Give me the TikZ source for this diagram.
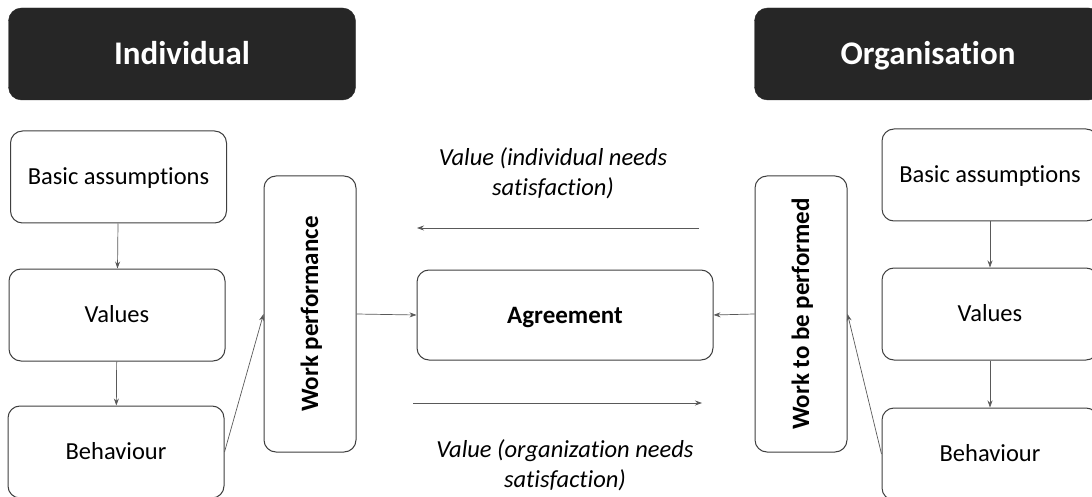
\documentclass[tikz,border=0pt]{standalone}
\usepackage{fontspec}
\setmainfont[RawFeature={-liga;-clig;-dlig;-calt}]{Carlito}
\usetikzlibrary{arrows.meta}
\definecolor{headfill}{HTML}{262626}
\definecolor{edge}{HTML}{3F3F3F}
\definecolor{link}{HTML}{595959}
\begin{document}
\begin{tikzpicture}[x=1pt,y=-1pt,
  header/.style={draw=headfill,fill=headfill,rounded corners=13pt,minimum width=347pt,
    minimum height=92pt,text=white,font=\fontsize{33}{37}\selectfont\bfseries,
    text height=21pt,text depth=0pt},
  card/.style={draw=edge,line width=1pt,rounded corners=12pt,fill=white,
    minimum width=216pt,minimum height=92pt,font=\fontsize{24.5}{28}\selectfont,
    text height=15.8pt,text depth=0pt},
  tallcard/.style={draw=edge,line width=1pt,rounded corners=12pt,fill=white,
    minimum width=92pt,minimum height=276pt},
  vlabel/.style={rotate=90,font=\fontsize{25}{29}\selectfont\bfseries,
    text height=16pt,text depth=0pt},
  flow/.style={draw=link,line width=0.7pt,-{Stealth[length=7pt,width=5pt]}},
  note/.style={align=center,font=\fontsize{24.5}{30}\selectfont\itshape}]
\useasboundingbox (0,0) rectangle (1092,497);
\clip (0,0) rectangle (1092,497);

% column headers
\node[header] (hind) at (182,54) {Individual};
\node[header] (horg) at (928,54) {Organisation};

% individual side
\node[card] (lbas) at (118.5,177) {Basic assumptions};
\node[card] (lval) at (117,315) {Values};
\node[card] (lbeh) at (116,452) {Behaviour};
\node[tallcard] (wp) at (310,314) {};
\node[vlabel] at (wp.center) {Work performance};

% centre
\node[card,minimum width=296pt,minimum height=90pt,font=\fontsize{25}{29}\selectfont\bfseries,
  text height=16pt] (agr) at (565,315) {Agreement};

% organisation side
\node[tallcard] (wtbp) at (801,314) {};
\node[vlabel] at (wtbp.center) {Work to be performed};
\node[card] (rbas) at (990,175) {Basic assumptions};
\node[card] (rval) at (990,314) {Values};
\node[card] (rbeh) at (990,454) {Behaviour};

% exchanged values
\node[note] (vind) at (553,173) {Value (individual needs\\satisfaction)};
\node[note] (vorg) at (565,465) {Value (organization needs\\satisfaction)};
\coordinate (ta) at (699,228);
\coordinate (tb) at (417,228);
\coordinate (ba) at (413,403);
\coordinate (bb) at (702,403);

% connectors
\draw[flow] (lbas) -- (lval);
\draw[flow] (lval) -- (lbeh);
\draw[flow] (lbeh.east) -- (wp.west);
\draw[flow] (wp.east) -- (agr.west);
\draw[flow] (rbas) -- (rval);
\draw[flow] (rval) -- (rbeh);
\draw[flow] (rbeh.west) -- (wtbp.east);
\draw[flow] (wtbp.west) -- (agr.east);
\draw[flow] (ta) -- (tb);
\draw[flow] (ba) -- (bb);
\end{tikzpicture}
\end{document}
